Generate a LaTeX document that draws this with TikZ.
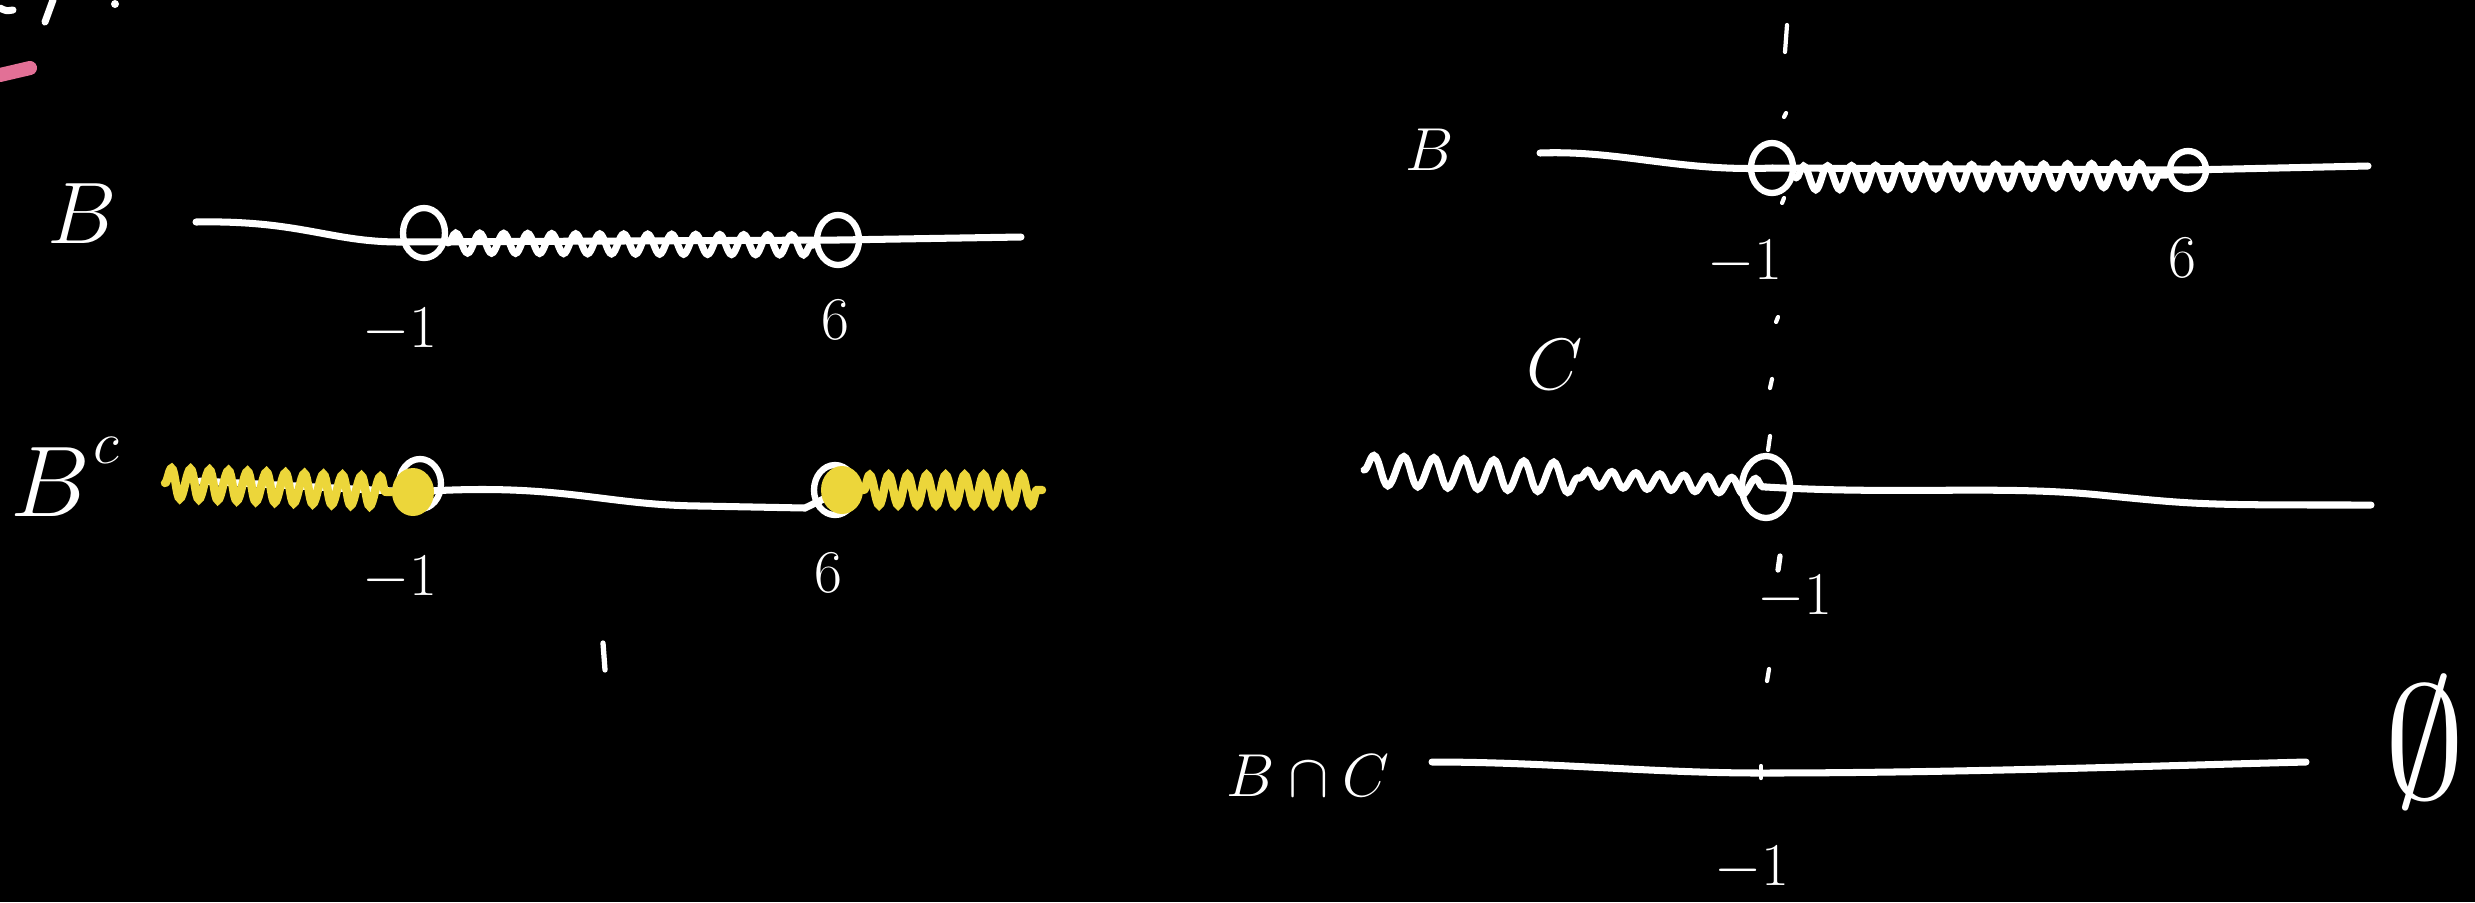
\documentclass[tikz,border=0pt]{standalone}
\usepackage{amsmath}
\usetikzlibrary{decorations.pathmorphing,shapes.geometric}
\definecolor{hilite}{RGB}{236,214,58}
\definecolor{pinkmark}{RGB}{226,112,150}

\begin{document}
\begin{tikzpicture}[x=0.1mm,y=-0.1mm,
    chalk/.style={white,line width=2pt,line cap=round},
    hole/.style={draw=white,line width=1.8pt,ellipse,inner sep=0pt,minimum width=4.2mm,minimum height=5mm},
    spot/.style={fill=hilite,ellipse,inner sep=0pt,minimum width=4.2mm,minimum height=4.8mm},
    wave/.style={chalk,decorate,decoration={snake,segment length=2.4mm,amplitude=1mm}},
    ywave/.style={hilite,line width=2.4pt,line cap=round,decorate,decoration={snake,segment length=1.9mm,amplitude=1.5mm}},
    lbl/.style={text=white,font=\fontsize{24}{28}\selectfont},
    num/.style={text=white,font=\fontsize{18}{22}\selectfont}]
  \useasboundingbox (0,0) rectangle (2475,902);
  \fill[black] (0,0) rectangle (2475,902);

  % leftovers at the corner
  \draw[chalk] (0,8) .. controls (6,11) .. (13,10);
  \draw[chalk] (53,0) -- (45,22);
  \fill[white] (115,4) circle (0.4mm);
  \draw[pinkmark,line width=4pt,line cap=round] (0,75) -- (30,68);

  % B
  \node[lbl] (bA) at (82,214) {$B$};
  \coordinate (bAl) at (196,222);
  \coordinate (bAr) at (1021,237);
  \node[hole] (bAm) at (424,233) {};
  \node[hole] (bAs) at (838,240) {};
  \draw[chalk] (bAl) .. controls (300,220) and (330,242) .. (400,242) -- (bAs.center) -- (bAr);
  \draw[wave] ([yshift=-1mm]bAm.east) -- ([yshift=-0.5mm]bAs.west);
  \node[num] (bAm1) at (400,330) {$-1$};
  \node[num] (bA6) at (835,320) {$6$};

  % B^c
  \node[lbl,scale=1.15] (bc) at (50,482) {$B$};
  \node[num] (bcc) at (106,450) {$c$};
  \coordinate (cAl) at (165,483);
  \coordinate (cAr) at (1042,490);
  \coordinate (cAm0) at (413,492);
  \coordinate (cAs0) at (842,490);
  \draw[chalk] (200,481) -- (cAm0) .. controls (560,482) and (600,505) .. (700,506) -- (805,508) -- (cAs0);
  \node[hole] (cAmh) at (420,484) {};
  \node[hole] (cAsh) at (835,490) {};
  \node[spot] (cAm) at (cAm0) {};
  \node[spot] (cAs) at (cAs0) {};
  \draw[ywave] (cAl) -- (cAm.west);
  \draw[ywave] (cAs.east) -- (cAr);
  \node[num] (cAm1) at (400,578) {$-1$};
  \node[num] (cA6) at (828,573) {$6$};
  \draw[chalk,line width=1.5pt] (603,643) -- (605,670);

  % guide through -1
  \foreach \xa/\ya/\yb in {1787/25/52,1786/113/117,1784/198/203,1778/317/322,1772/379/388,1770/436/450,1769/669/681}
    \draw[chalk,line width=1.2pt] (\xa,\ya) -- (\xa-2,\yb);

  % B, right
  \node[num] (bB) at (1430,150) {$B$};
  \coordinate (bBl) at (1540,153);
  \coordinate (bBr) at (2368,166);
  \node[hole] (bBm) at (1772,168) {};
  \node[hole,minimum width=3.6mm,minimum height=3.8mm] (bBs) at (2188,170) {};
  \draw[chalk] (bBl) .. controls (1620,150) and (1680,172) .. (bBm.center) -- (bBs.center) -- (bBr);
  \draw[wave,decoration={amplitude=1.2mm}] ([yshift=-1mm]bBm.east) -- ([yshift=-0.5mm]bBs.west);
  \node[num] (bBm1) at (1745,262) {$-1$};
  \node[num] (bB6) at (2182,258) {$6$};

  % C
  \node[text=white,font=\fontsize{22}{26}\selectfont] (cC) at (1555,365) {$C$};
  \coordinate (cCl) at (1364,470);
  \coordinate (cCk) at (1580,478);
  \coordinate (cCr) at (2371,505);
  \node[hole,minimum width=4.8mm,minimum height=6.2mm] (cCm) at (1766,487) {};
  \draw[wave,decoration={segment length=3mm,amplitude=1.5mm}] (cCl) -- (cCk);
  \draw[wave,decoration={segment length=2.4mm,amplitude=0.8mm}] (cCk) -- (cCm.center);
  \draw[chalk] (cCm.center) .. controls (1900,495) and (2000,485) .. (2100,495) .. controls (2200,505) .. (cCr);
  \node[num] (cCm1) at (1795,597) {$-1$};
  \draw[chalk,line width=1.5pt] (1780,556) -- (1778,570);

  % B cap C
  \node[num] (bcC) at (1308,776) {$B\cap C$};
  \coordinate (dl) at (1432,762);
  \coordinate (dm) at (1761,773);
  \coordinate (dr) at (2306,762);
  \draw[chalk] (dl) .. controls (1550,762) and (1650,773) .. (dm) .. controls (1950,773) and (2150,766) .. (dr);
  \draw[chalk,line width=1.2pt] (1761,766) -- (1761,778);
  \node[num] (dm1) at (1752,868) {$-1$};
  \node[lbl,scale=1.85] (empty) at (2425,742) {$\emptyset$};
\end{tikzpicture}
\end{document}
